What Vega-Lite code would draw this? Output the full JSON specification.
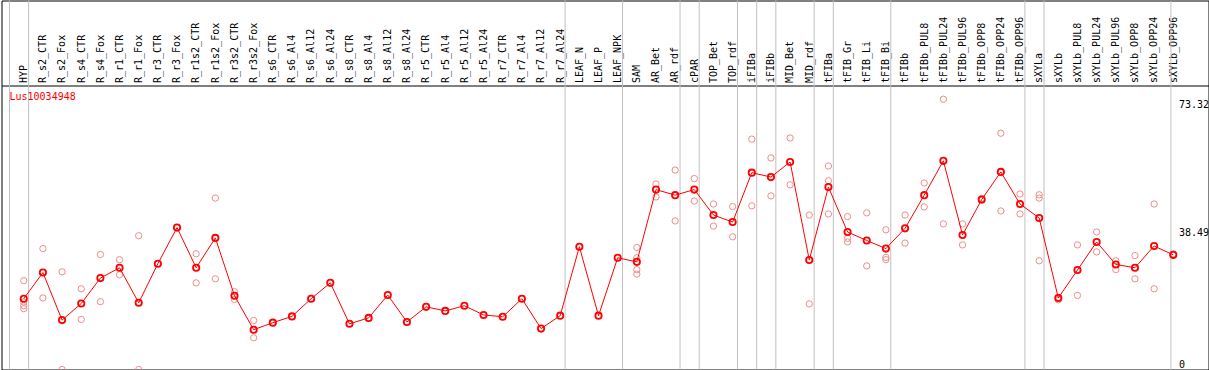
{
  "$schema": "https://vega.github.io/schema/vega-lite/v6.json",
  "width": 1207,
  "height": 369,
  "autosize": {"type": "none"},
  "padding": {"left": 1.5, "top": 0.5, "right": 0.5, "bottom": 0.5},
  "background": "white",
  "title": {"text": "Lus10034948", "anchor": "start", "frame": "group", "orient": "top", "offset": -102, "baseline": "top", "dx": 8, "color": "#ff0000", "font": "DejaVu Sans Mono", "fontSize": 10, "fontWeight": "normal"},
  "config": {"view": {"stroke": "black", "strokeWidth": 1}},
  "datasets": {
    "groups": [
      {"sample": "HYP"}, {"sample": "R_s2_CTR"}, {"sample": "LEAF_N"}, {"sample": "SAM"}, {"sample": "cPAR"},
      {"sample": "TOP_Bet"}, {"sample": "iFIBa"}, {"sample": "iFIBb"}, {"sample": "MID_Bet"}, {"sample": "tFIBa"},
      {"sample": "tFIB_Gr"}, {"sample": "tFIBb"}, {"sample": "sXYLa"}, {"sample": "sXYLb"}
    ],
    "means": [
      {"sample": "HYP", "value": 19.2}, {"sample": "R_s2_CTR", "value": 26.3}, {"sample": "R_s2_Fox", "value": 13.4},
      {"sample": "R_s4_CTR", "value": 17.9}, {"sample": "R_s4_Fox", "value": 24.8}, {"sample": "R_r1_CTR", "value": 27.6},
      {"sample": "R_r1_Fox", "value": 18.1}, {"sample": "R_r3_CTR", "value": 28.7}, {"sample": "R_r3_Fox", "value": 38.5},
      {"sample": "R_r1s2_CTR", "value": 27.6}, {"sample": "R_r1s2_Fox", "value": 35.7}, {"sample": "R_r3s2_CTR", "value": 20.0},
      {"sample": "R_r3s2_Fox", "value": 10.8}, {"sample": "R_s6_CTR", "value": 12.7}, {"sample": "R_s6_Al4", "value": 14.4},
      {"sample": "R_s6_Al12", "value": 19.2}, {"sample": "R_s6_Al24", "value": 23.5}, {"sample": "R_s8_CTR", "value": 12.4},
      {"sample": "R_s8_Al4", "value": 14.0}, {"sample": "R_s8_Al12", "value": 20.2}, {"sample": "R_s8_Al24", "value": 12.9},
      {"sample": "R_r5_CTR", "value": 17.0}, {"sample": "R_r5_Al4", "value": 15.9}, {"sample": "R_r5_Al12", "value": 17.3},
      {"sample": "R_r5_Al24", "value": 14.8}, {"sample": "R_r7_CTR", "value": 14.3}, {"sample": "R_r7_Al4", "value": 19.2},
      {"sample": "R_r7_Al12", "value": 11.1}, {"sample": "R_r7_Al24", "value": 14.6}, {"sample": "LEAF_N", "value": 33.3},
      {"sample": "LEAF_P", "value": 14.6}, {"sample": "LEAF_NPK", "value": 30.3}, {"sample": "SAM", "value": 29.2},
      {"sample": "AR_Bet", "value": 48.8}, {"sample": "AR_rdf", "value": 47.3}, {"sample": "cPAR", "value": 48.8},
      {"sample": "TOP_Bet", "value": 41.9}, {"sample": "TOP_rdf", "value": 40.0}, {"sample": "iFIBa", "value": 53.4},
      {"sample": "iFIBb", "value": 52.2}, {"sample": "MID_Bet", "value": 56.3}, {"sample": "MID_rdf", "value": 29.7},
      {"sample": "tFIBa", "value": 49.5}, {"sample": "tFIB_Gr", "value": 37.3}, {"sample": "tFIB_Li", "value": 35.0},
      {"sample": "tFIB_Bi", "value": 32.8}, {"sample": "tFIBb", "value": 38.3}, {"sample": "tFIBb_PUL8", "value": 47.3},
      {"sample": "tFIBb_PUL24", "value": 56.6}, {"sample": "tFIBb_PUL96", "value": 36.5}, {"sample": "tFIBb_OPP8", "value": 46.1},
      {"sample": "tFIBb_OPP24", "value": 53.6}, {"sample": "tFIBb_OPP96", "value": 44.9}, {"sample": "sXYLa", "value": 41.1},
      {"sample": "sXYLb", "value": 19.4}, {"sample": "sXYLb_PUL8", "value": 27.0}, {"sample": "sXYLb_PUL24", "value": 34.6},
      {"sample": "sXYLb_PUL96", "value": 28.5}, {"sample": "sXYLb_OPP8", "value": 27.6}, {"sample": "sXYLb_OPP24", "value": 33.5},
      {"sample": "sXYLb_OPP96", "value": 31.1}
    ],
    "reps": [
      {"sample": "HYP", "value": 24.1}, {"sample": "HYP", "value": 18.3}, {"sample": "HYP", "value": 17.3}, {"sample": "HYP", "value": 16.5},
      {"sample": "R_s2_CTR", "value": 32.8}, {"sample": "R_s2_CTR", "value": 19.4},
      {"sample": "R_s2_Fox", "value": 26.5}, {"sample": "R_s2_Fox", "value": 0},
      {"sample": "R_s4_CTR", "value": 21.9}, {"sample": "R_s4_CTR", "value": 13.6},
      {"sample": "R_s4_Fox", "value": 31.2}, {"sample": "R_s4_Fox", "value": 18.4},
      {"sample": "R_r1_CTR", "value": 29.8}, {"sample": "R_r1_CTR", "value": 25.7},
      {"sample": "R_r1_Fox", "value": 36.3}, {"sample": "R_r1_Fox", "value": 0},
      {"sample": "R_r1s2_CTR", "value": 31.4}, {"sample": "R_r1s2_CTR", "value": 23.5},
      {"sample": "R_r1s2_Fox", "value": 46.5}, {"sample": "R_r1s2_Fox", "value": 24.6},
      {"sample": "R_r3s2_CTR", "value": 21.1}, {"sample": "R_r3s2_CTR", "value": 19.0},
      {"sample": "R_r3s2_Fox", "value": 13.3}, {"sample": "R_r3s2_Fox", "value": 8.6},
      {"sample": "SAM", "value": 33.1}, {"sample": "SAM", "value": 30.3}, {"sample": "SAM", "value": 27.1}, {"sample": "SAM", "value": 25.9},
      {"sample": "AR_Bet", "value": 50.3}, {"sample": "AR_Bet", "value": 46.8},
      {"sample": "AR_rdf", "value": 54.1}, {"sample": "AR_rdf", "value": 40.3},
      {"sample": "cPAR", "value": 51.8}, {"sample": "cPAR", "value": 45.7},
      {"sample": "TOP_Bet", "value": 44.9}, {"sample": "TOP_Bet", "value": 38.9},
      {"sample": "TOP_rdf", "value": 44.2}, {"sample": "TOP_rdf", "value": 36.0},
      {"sample": "iFIBa", "value": 62.5}, {"sample": "iFIBa", "value": 44.4},
      {"sample": "iFIBb", "value": 57.4}, {"sample": "iFIBb", "value": 47.1},
      {"sample": "MID_Bet", "value": 62.8}, {"sample": "MID_Bet", "value": 50.1},
      {"sample": "MID_rdf", "value": 41.9}, {"sample": "MID_rdf", "value": 17.8},
      {"sample": "tFIBa", "value": 55.2}, {"sample": "tFIBa", "value": 51.2}, {"sample": "tFIBa", "value": 42.2},
      {"sample": "tFIB_Gr", "value": 41.5}, {"sample": "tFIB_Gr", "value": 35.6}, {"sample": "tFIB_Gr", "value": 34.6},
      {"sample": "tFIB_Li", "value": 42.5}, {"sample": "tFIB_Li", "value": 28.1},
      {"sample": "tFIB_Bi", "value": 37.9}, {"sample": "tFIB_Bi", "value": 30.4}, {"sample": "tFIB_Bi", "value": 29.8},
      {"sample": "tFIBb", "value": 41.9}, {"sample": "tFIBb", "value": 34.3},
      {"sample": "tFIBb_PUL8", "value": 50.6}, {"sample": "tFIBb_PUL8", "value": 44.1},
      {"sample": "tFIBb_PUL24", "value": 73.32}, {"sample": "tFIBb_PUL24", "value": 39.5},
      {"sample": "tFIBb_PUL96", "value": 39.5}, {"sample": "tFIBb_PUL96", "value": 33.8},
      {"sample": "tFIBb_OPP8", "value": 46.4}, {"sample": "tFIBb_OPP8", "value": 45.9},
      {"sample": "tFIBb_OPP24", "value": 64.1}, {"sample": "tFIBb_OPP24", "value": 43.0},
      {"sample": "tFIBb_OPP96", "value": 47.6}, {"sample": "tFIBb_OPP96", "value": 42.2},
      {"sample": "sXYLa", "value": 47.4}, {"sample": "sXYLa", "value": 46.5}, {"sample": "sXYLa", "value": 29.5},
      {"sample": "sXYLb", "value": 19.6}, {"sample": "sXYLb", "value": 18.9},
      {"sample": "sXYLb_PUL8", "value": 33.8}, {"sample": "sXYLb_PUL8", "value": 20.1},
      {"sample": "sXYLb_PUL24", "value": 37.3}, {"sample": "sXYLb_PUL24", "value": 31.9},
      {"sample": "sXYLb_PUL96", "value": 29.5}, {"sample": "sXYLb_PUL96", "value": 27.1},
      {"sample": "sXYLb_OPP8", "value": 30.9}, {"sample": "sXYLb_OPP8", "value": 24.6},
      {"sample": "sXYLb_OPP24", "value": 44.9}, {"sample": "sXYLb_OPP24", "value": 21.9},
      {"sample": "sXYLb_OPP96", "value": 31.3}, {"sample": "sXYLb_OPP96", "value": 30.9}
    ]
  },
  "layer": [
    {
      "data": {"name": "groups"},
      "mark": {"type": "rule", "color": "#c0c0c0", "strokeWidth": 1},
      "encoding": {
        "x": {
          "field": "sample", "type": "ordinal", "bandPosition": 0,
          "scale": {
            "domain": ["HYP","R_s2_CTR","R_s2_Fox","R_s4_CTR","R_s4_Fox","R_r1_CTR","R_r1_Fox","R_r3_CTR","R_r3_Fox","R_r1s2_CTR","R_r1s2_Fox","R_r3s2_CTR","R_r3s2_Fox","R_s6_CTR","R_s6_Al4","R_s6_Al12","R_s6_Al24","R_s8_CTR","R_s8_Al4","R_s8_Al12","R_s8_Al24","R_r5_CTR","R_r5_Al4","R_r5_Al12","R_r5_Al24","R_r7_CTR","R_r7_Al4","R_r7_Al12","R_r7_Al24","LEAF_N","LEAF_P","LEAF_NPK","SAM","AR_Bet","AR_rdf","cPAR","TOP_Bet","TOP_rdf","iFIBa","iFIBb","MID_Bet","MID_rdf","tFIBa","tFIB_Gr","tFIB_Li","tFIB_Bi","tFIBb","tFIBb_PUL8","tFIBb_PUL24","tFIBb_PUL96","tFIBb_OPP8","tFIBb_OPP24","tFIBb_OPP96","sXYLa","sXYLb","sXYLb_PUL8","sXYLb_PUL24","sXYLb_PUL96","sXYLb_OPP8","sXYLb_OPP24","sXYLb_OPP96"],
            "paddingInner": 0, "paddingOuter": 1.263, "align": 0.2083, "round": false
          },
          "axis": {
            "orient": "top", "offset": -85, "title": null, "bandPosition": 0.5, "labelOffset": 5,
            "ticks": false, "grid": false, "domain": true, "domainColor": "black", "domainWidth": 1,
            "labelAngle": -90, "labelAlign": "left", "labelBaseline": "middle", "labelPadding": 3,
            "labelFont": "DejaVu Sans Mono", "labelFontSize": 10, "labelColor": "black",
            "labelOverlap": false, "labelLimit": 0, "labelBound": false, "labelFlush": false
          }
        }
      }
    },
    {
      "mark": {"type": "rule", "color": "#c0c0c0", "strokeWidth": 1},
      "encoding": {"y": {"datum": 38.49}}
    },
    {
      "data": {"name": "reps"},
      "mark": {"type": "point", "shape": "circle", "filled": false, "color": "#f08c8c", "strokeWidth": 1, "size": 40, "opacity": 1},
      "encoding": {
        "x": {"field": "sample", "type": "ordinal", "bandPosition": 0.745},
        "y": {"field": "value", "type": "quantitative"}
      }
    },
    {
      "data": {"name": "means"},
      "mark": {"type": "line", "color": "#ff0000", "strokeWidth": 1},
      "encoding": {
        "x": {"field": "sample", "type": "ordinal", "bandPosition": 0.745},
        "y": {"field": "value", "type": "quantitative"}
      }
    },
    {
      "data": {"name": "means"},
      "mark": {"type": "point", "shape": "circle", "filled": false, "color": "#ff0000", "strokeWidth": 1.8, "size": 40, "opacity": 1},
      "encoding": {
        "x": {"field": "sample", "type": "ordinal", "bandPosition": 0.745},
        "y": {
          "field": "value", "type": "quantitative",
          "scale": {"domain": [0, 100.1], "nice": false, "zero": true},
          "axis": {
            "orient": "right", "offset": -38.1, "title": null, "values": [0, 38.49, 73.32],
            "ticks": false, "grid": false, "domain": true, "domainColor": "#c0c0c0", "domainWidth": 1,
            "labelAlign": "left", "labelPadding": 8,
            "labelBaseline": {"condition": {"test": "datum.value == 0", "value": "bottom"}, "value": "top"},
            "labelFont": "DejaVu Sans Mono", "labelFontSize": 10, "labelColor": "black",
            "labelExpr": "datum.value + ''", "labelOverlap": false, "labelFlush": false, "labelBound": false
          }
        }
      }
    }
  ]
}
